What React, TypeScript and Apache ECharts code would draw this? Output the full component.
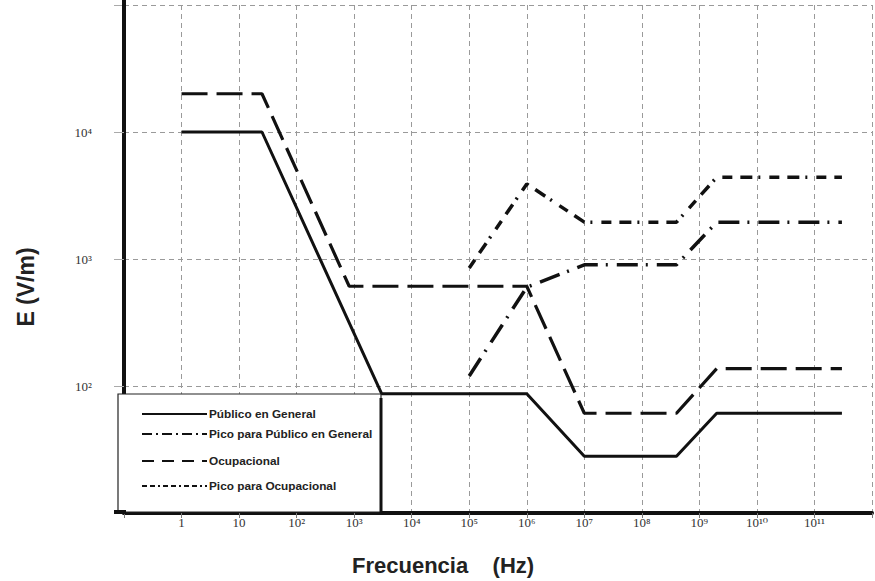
import React, { useEffect, useRef } from 'react';
import * as echarts from 'echarts';

// ---- Data ----
const SERIES_NAMES = [
  'Público en General',
  'Pico para Público en General',
  'Ocupacional',
  'Pico para Ocupacional',
];

const publicoFreq = [1, 25, 3000, 1e6, 1e7, 4e8, 2e9, 3e11];
const publicoE = [10000, 10000, 87, 87, 28, 28, 61, 61];

const picoPublicoFreq = [1e5, 1e6, 1e7, 4e8, 2e9, 3e11];
const picoPublicoE = [120, 600, 900, 900, 1950, 1950];

const ocupFreq = [1, 25, 820, 1e6, 1e7, 4e8, 2e9, 3e11];
const ocupE = [20000, 20000, 610, 610, 61, 61, 137, 137];

const picoOcupFreq = [1e5, 1e6, 1e7, 4e8, 2e9, 3e11];
const picoOcupE = [850, 3900, 1950, 1950, 4400, 4400];

const X_TICK_LABELS = ['1', '10', '10²', '10³', '10⁴', '10⁵', '10⁶', '10⁷', '10⁸', '10⁹', '10¹⁰', '10¹¹'];
const Y_TICK_EXPONENTS = [2, 3, 4];
const Y_TICK_LABELS = ['10²', '10³', '10⁴'];

const X_TITLE = 'Frecuencia    (Hz)';
const Y_TITLE = 'E (V/m)';

export default function App() {
  const ref = useRef<HTMLDivElement>(null);

  useEffect(() => {
    if (!ref.current) return;
    const chart = echarts.init(ref.current, null, { renderer: 'svg' });

    const pairs = (xs: number[], ys: number[]) => xs.map((x, i) => [x, ys[i]]);
    const seriesData = [
      pairs(publicoFreq, publicoE),
      pairs(picoPublicoFreq, picoPublicoE),
      pairs(ocupFreq, ocupE),
      pairs(picoOcupFreq, picoOcupE),
    ];
    const lineStyles: any[] = [
      { width: 3, type: 'solid' },
      { width: 3.5, type: [21, 8, 2, 9] },
      { width: 3.2, type: [26, 9] },
      { width: 3.5, type: [10, 8, 12, 6, 2, 9] },
    ];
    const legendDash: any[] = [null, [10, 4, 2, 4], [12, 8], [5, 3, 5, 3, 2, 3]];
    const legendRowsY = [414, 434, 461, 486];

    const sans = "'Liberation Sans', Arial, 'DejaVu Sans', sans-serif";
    const serif = "'Liberation Serif', 'DejaVu Serif', serif";

    const legendElements: any[] = [
      {
        type: 'rect',
        z: 100,
        shape: { x: 118, y: 394, width: 263, height: 118 },
        style: { fill: '#ffffff', stroke: '#222', lineWidth: 1.2 },
      },
      {
        type: 'line',
        z: 101,
        shape: { x1: 381, y1: 398, x2: 381, y2: 513 },
        style: { stroke: '#111', lineWidth: 3 },
      },
      {
        type: 'line',
        z: 101,
        shape: { x1: 114, y1: 512, x2: 126, y2: 512 },
        style: { stroke: '#111', lineWidth: 4 },
      },
      {
        type: 'line',
        z: 101,
        shape: { x1: 124, y1: 0, x2: 124, y2: 6 },
        style: { stroke: '#111', lineWidth: 4 },
      },
    ];
    SERIES_NAMES.forEach((name, i) => {
      legendElements.push({
        type: 'line',
        z: 101,
        shape: { x1: 142, y1: legendRowsY[i], x2: 207, y2: legendRowsY[i] },
        style: { stroke: '#111', lineWidth: 2, lineDash: legendDash[i] || undefined },
      });
      legendElements.push({
        type: 'text',
        z: 101,
        x: 209,
        y: legendRowsY[i],
        style: {
          text: name,
          fill: '#222',
          font: `bold 11.8px ${sans}`,
          verticalAlign: 'middle',
          align: 'left',
        },
      });
    });

    chart.setOption({
      animation: false,
      backgroundColor: '#ffffff',
      grid: { left: 124, right: -7, top: 5, bottom: 68 },
      xAxis: {
        type: 'log',
        logBase: 10,
        min: 0.1,
        max: 1e12,
        interval: 1,
        axisLine: { show: true, lineStyle: { color: '#111', width: 4 } },
        axisTick: { show: true, length: 5, lineStyle: { color: '#777', width: 1 } },
        axisLabel: {
          margin: 3,
          color: '#333',
          fontFamily: serif,
          fontSize: 13,
          formatter: (v: number) => {
            const e = Math.round(Math.log10(v));
            return e >= 0 && e < X_TICK_LABELS.length ? X_TICK_LABELS[e] : '';
          },
        },
        splitLine: { show: true, lineStyle: { color: '#9a9a9a', width: 1, type: [5, 4] } },
        minorTick: { show: false },
      },
      yAxis: {
        type: 'log',
        logBase: 10,
        min: 10,
        max: 1e5,
        interval: 1,
        axisLine: { show: true, lineStyle: { color: '#111', width: 4 } },
        axisTick: { show: true, length: 10, lineStyle: { color: '#aaa', width: 1 } },
        axisLabel: {
          margin: 32,
          color: '#333',
          fontFamily: serif,
          fontSize: 13,
          formatter: (v: number) => {
            const e = Math.round(Math.log10(v));
            const idx = Y_TICK_EXPONENTS.indexOf(e);
            return idx >= 0 ? Y_TICK_LABELS[idx] : '';
          },
        },
        splitLine: { show: true, lineStyle: { color: '#9a9a9a', width: 1, type: [5, 4] } },
      },
      series: SERIES_NAMES.map((name, i) => ({
        name,
        type: 'line',
        data: seriesData[i],
        symbol: 'none',
        showSymbol: false,
        lineStyle: { color: '#111', ...lineStyles[i] },
        z: 3,
      })),
      graphic: [
        ...legendElements,
        {
          type: 'text',
          z: 101,
          x: 26,
          y: 287,
          rotation: Math.PI / 2,
          style: {
            text: Y_TITLE,
            fill: '#222',
            font: `bold 23px ${sans}`,
            align: 'center',
            verticalAlign: 'middle',
          },
        },
        {
          type: 'text',
          z: 101,
          x: 352,
          y: 565,
          style: {
            text: X_TITLE,
            fill: '#222',
            font: `bold 22px ${sans}`,
            align: 'left',
            verticalAlign: 'middle',
          },
        },
      ],
    });

    return () => chart.dispose();
  }, []);

  return (
    <div
      ref={ref}
      style={{ position: 'absolute', left: 0, top: 0, width: 875, height: 581 }}
    />
  );
}
